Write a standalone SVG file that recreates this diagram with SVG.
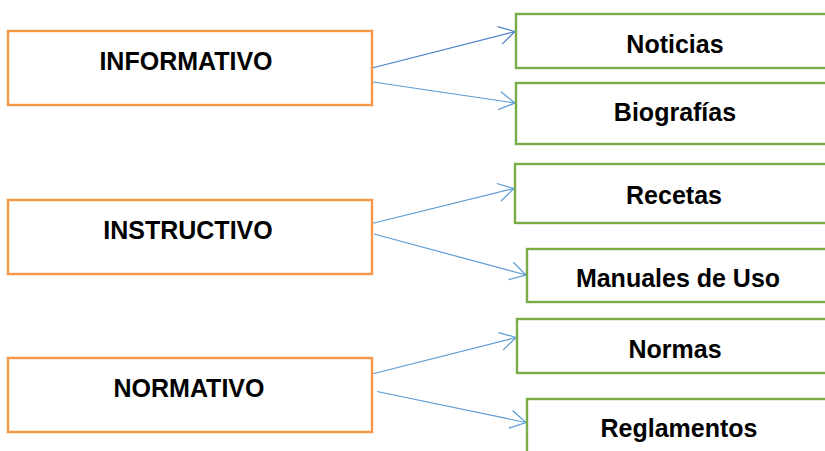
<svg xmlns="http://www.w3.org/2000/svg" width="825" height="451" viewBox="0 0 825 451">
<defs>
<style>
.src{fill:#fff;stroke:#F79646;stroke-width:2.4}
.dst{fill:#fff;stroke:#77AC47;stroke-width:2.4}
.t{font-family:"Liberation Sans",Arial,sans-serif;font-weight:bold;font-size:25px;fill:#000;text-anchor:middle}
.c1{stroke:#4A7EC4;stroke-width:1.2;fill:none}
.c2{stroke:#5B9BD5;stroke-width:1.2;fill:none}
</style>
<marker id="a1" viewBox="-17 -10 18 20" markerWidth="18" markerHeight="20" refX="0" refY="0" orient="auto" markerUnits="userSpaceOnUse">
<path d="M-15.6,-9 L0,0 L-15.6,9" fill="none" stroke="#4A7EC4" stroke-width="1.2"/>
</marker>
<marker id="a2" viewBox="-17 -10 18 20" markerWidth="18" markerHeight="20" refX="0" refY="0" orient="auto" markerUnits="userSpaceOnUse">
<path d="M-15.6,-9 L0,0 L-15.6,9" fill="none" stroke="#5B9BD5" stroke-width="1.2"/>
</marker>
</defs>
<rect width="825" height="451" fill="#fff"/>
<g id="connectors">
<line class="c1" x1="372" y1="68" x2="515" y2="31.5" marker-end="url(#a1)"/>
<line class="c2" x1="373" y1="82" x2="515" y2="103" marker-end="url(#a2)"/>
<line class="c2" x1="372" y1="223.5" x2="514" y2="188.5" marker-end="url(#a2)"/>
<line class="c2" x1="374" y1="234" x2="526" y2="275" marker-end="url(#a2)"/>
<line class="c2" x1="372" y1="374" x2="516" y2="337.5" marker-end="url(#a2)"/>
<line class="c2" x1="377" y1="391.5" x2="526" y2="422.5" marker-end="url(#a2)"/>
</g>
<g id="informativo"><rect class="src" x="8" y="31" width="364" height="74"/><text class="t" x="186" y="70">INFORMATIVO</text></g>
<g id="instructivo"><rect class="src" x="8" y="200" width="364" height="74"/><text class="t" x="188" y="239">INSTRUCTIVO</text></g>
<g id="normativo"><rect class="src" x="8" y="358" width="364" height="74"/><text class="t" x="189" y="397">NORMATIVO</text></g>
<g id="noticias"><rect class="dst" x="516" y="14" width="320" height="54"/><text class="t" x="675" y="53">Noticias</text></g>
<g id="biografias"><rect class="dst" x="516" y="83" width="320" height="61"/><text class="t" x="675" y="121">Biografías</text></g>
<g id="recetas"><rect class="dst" x="515" y="164" width="320" height="59"/><text class="t" x="674" y="204">Recetas</text></g>
<g id="manuales"><rect class="dst" x="527" y="249" width="320" height="53"/><text class="t" x="678" y="287">Manuales de Uso</text></g>
<g id="normas"><rect class="dst" x="517" y="319" width="320" height="54"/><text class="t" x="675" y="358">Normas</text></g>
<g id="reglamentos"><rect class="dst" x="527" y="399" width="320" height="70"/><text class="t" x="679" y="437">Reglamentos</text></g>
</svg>
